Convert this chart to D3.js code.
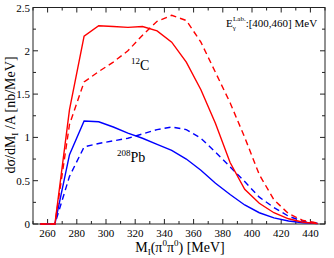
<!DOCTYPE html>
<html><head><meta charset="utf-8">
<script src="https://cdn.jsdelivr.net/npm/d3@7"></script>
<style>body{margin:0;background:#fff}svg{display:block}text{font-family:"Liberation Serif","Times New Roman",serif;fill:#000}</style>
</head><body>
<svg id="c" width="334" height="258"></svg>
<script>
const mass = [255,265,275,285,295,305,315,325,335,345,355,365,375,385,395,405,415,425,435,445];
const cSolid  = [0,0,1.32,2.17,2.29,2.28,2.27,2.28,2.23,2.10,1.87,1.55,1.16,0.71,0.40,0.24,0.13,0.06,0.02,0.005];
const cDashed = [0,0,1.15,1.64,1.76,1.87,2.00,2.18,2.34,2.41,2.35,2.10,1.75,1.40,1.00,0.57,0.28,0.12,0.04,0.01];
const pbSolid = [0,0,0.80,1.19,1.18,1.12,1.05,0.99,0.92,0.85,0.75,0.62,0.47,0.34,0.22,0.13,0.07,0.035,0.015,0.005];
const pbDashed= [0,0,0.55,0.89,0.93,0.96,0.99,1.04,1.09,1.12,1.09,0.99,0.83,0.66,0.49,0.31,0.19,0.09,0.03,0.01];
const xTickLabels = [260,280,300,320,340,360,380,400,420,440];
const yTickLabels = [0,0.5,1,1.5,2,2.5];

const svg = d3.select("#c");
const L=33,R=325,T=7.5,B=224;
const x = d3.scaleLinear().domain([250,450]).range([L,R]);
const y = d3.scaleLinear().domain([0,2.5]).range([B,T]);

svg.append("rect").attr("x",L).attr("y",T).attr("width",R-L).attr("height",B-T)
  .attr("fill","none").attr("stroke","#222").attr("stroke-width",1);

const g = svg.append("g").attr("stroke","#222").attr("stroke-width",1);
d3.range(250,451,10).forEach(v=>{
  const len = (v%20===0)?5:3;
  g.append("line").attr("x1",x(v)).attr("x2",x(v)).attr("y1",B).attr("y2",B-len);
  g.append("line").attr("x1",x(v)).attr("x2",x(v)).attr("y1",T).attr("y2",T+len);
});
d3.range(0,2.51,0.25).forEach(v=>{
  const len = (Math.abs(v*2-Math.round(v*2))<1e-6)?5:3;
  g.append("line").attr("y1",y(v)).attr("y2",y(v)).attr("x1",L).attr("x2",L+len);
  g.append("line").attr("y1",y(v)).attr("y2",y(v)).attr("x1",R).attr("x2",R-len);
});

xTickLabels.forEach(v=>{
  svg.append("text").attr("x",x(v)).attr("y",B+13).attr("text-anchor","middle")
    .attr("font-size",11).text(v);
});
yTickLabels.forEach(v=>{
  svg.append("text").attr("x",L-3).attr("y",y(v)+4).attr("text-anchor","end")
    .attr("font-size",11).text(v);
});

const line = d3.line().x(d=>x(d[0])).y(d=>y(d[1]));
function draw(vals,color,dash){
  svg.append("path").datum(mass.map((m,i)=>[m,vals[i]]))
    .attr("d",line).attr("fill","none").attr("stroke",color).attr("stroke-width",1.4)
    .attr("stroke-dasharray",dash?"6,4":null);
}
draw(pbSolid,"#0000ff",false);
draw(pbDashed,"#0000ff",true);
draw(cSolid,"#ff0000",false);
draw(cDashed,"#ff0000",true);

const xl = svg.append("text").attr("x",180).attr("y",252).attr("text-anchor","middle").attr("font-size",14);
xl.append("tspan").text("M");
xl.append("tspan").attr("font-size",9).attr("dy",3).text("I");
xl.append("tspan").attr("dy",-3).text("(π");
xl.append("tspan").attr("font-size",9).attr("dy",-6).text("0");
xl.append("tspan").attr("dy",6).text("π");
xl.append("tspan").attr("font-size",9).attr("dy",-6).text("0");
xl.append("tspan").attr("dy",6).text(") [MeV]");

const yl = svg.append("text").attr("transform","translate(15,115) rotate(-90)")
  .attr("text-anchor","middle").attr("font-size",14);
yl.append("tspan").text("dσ/dM");
yl.append("tspan").attr("font-size",9).attr("dy",3).text("I");
yl.append("tspan").attr("dy",-3).text(" /A  [nb/MeV]");

const e = svg.append("text").attr("x",226).attr("y",27).attr("font-size",11);
e.append("tspan").text("E");
e.append("tspan").attr("font-size",7).attr("dy",3).text("γ");
e.append("tspan").attr("font-size",7).attr("x",233).attr("dy",-9).text("Lab.");
e.append("tspan").attr("dy",6).text(":[400,460] MeV");

const c = svg.append("text").attr("x",131).attr("y",70).attr("font-size",14);
c.append("tspan").attr("font-size",9).attr("dy",-6).text("12");
c.append("tspan").attr("dy",6).text("C");

const p = svg.append("text").attr("x",117).attr("y",162).attr("font-size",14);
p.append("tspan").attr("font-size",9).attr("dy",-6).text("208");
p.append("tspan").attr("dy",6).text("Pb");
</script>
</body></html>
